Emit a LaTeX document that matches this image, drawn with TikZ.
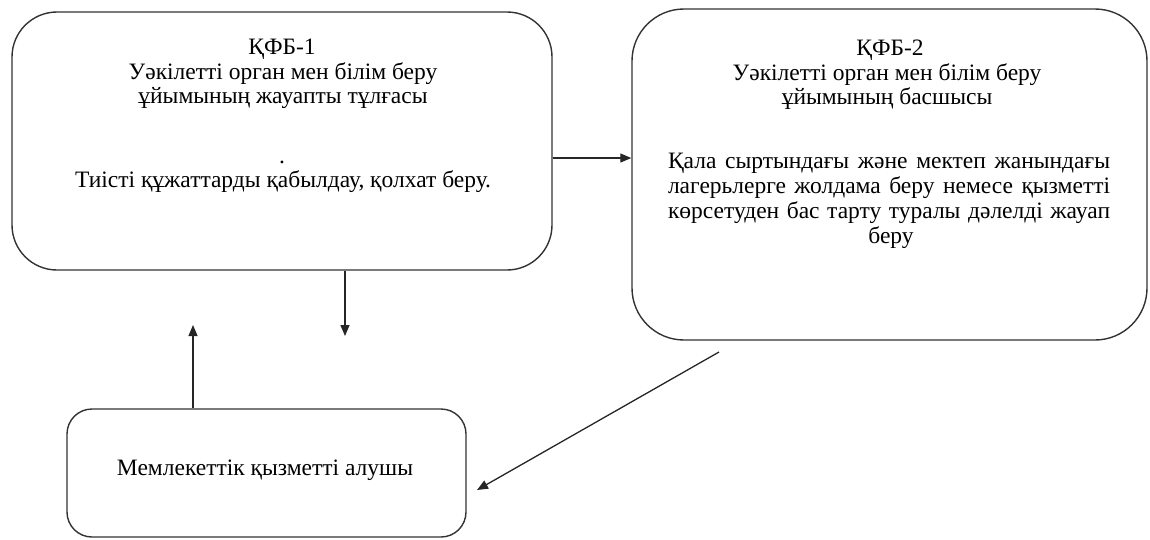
\documentclass[tikz,border=0pt]{standalone}
\usepackage{fontspec}
\setmainfont{Liberation Serif}
\usetikzlibrary{arrows.meta}
\tikzset{
  box/.style={draw=black!80, line width=1.4pt, fill=none, inner sep=0pt},
  txt/.style={anchor=base, inner sep=0pt, font=\fontsize{23.5}{26}\selectfont},
  arr/.style={draw=black!85, line width=1.3pt, -{Triangle[length=11pt,width=9pt]}}
}
\newcommand{\jline}[1]{\makebox[442pt][s]{#1}}
\begin{document}
\begin{tikzpicture}[x=1pt,y=-1pt]
\useasboundingbox (0,0) rectangle (1150,539);
% boxes
\node[box, rounded corners=45pt, minimum width=540pt, minimum height=258pt] (b1) at (282,141) {};
\node[box, rounded corners=52pt, minimum width=515pt, minimum height=331pt] (b2) at (889.5,174.5) {};
\node[box, rounded corners=25pt, minimum width=399pt, minimum height=128pt] (b3) at (266.5,473) {};
% box 1 text
\node[txt] (t1a) at (282,54) {ҚФБ-1};
\node[txt] (t1b) at (283,79) {Уәкілетті орган мен білім беру};
\node[txt] (t1c) at (283,103) {ұйымының жауапты тұлғасы};
\node[txt] (t1d) at (282,163) {.};
\node[txt] (t1e) at (283,187) {Тиісті құжаттарды қабылдау, қолхат беру.};
% box 2 text
\node[txt] (t2a) at (890,55) {ҚФБ-2};
\node[txt] (t2b) at (887,80) {Уәкілетті орган мен білім беру};
\node[txt] (t2c) at (887,104) {ұйымының басшысы};
\node[txt] (t2d) at (889,168) {\jline{Қала сыртындағы және мектеп жанындағы}};
\node[txt] (t2e) at (889,193) {\jline{лагерьлерге жолдама беру немесе қызметті}};
\node[txt] (t2f) at (889,218) {\jline{көрсетуден бас тарту туралы дәлелді жауап}};
\node[txt] (t2g) at (891,243) {беру};
% box 3 text
\node[txt] (t3a) at (265,475) {Мемлекеттік қызметті алушы};
% connector end points
\coordinate (a1) at (0,158);
\coordinate (d1) at (345,336);
\coordinate (u1) at (193,325);
\coordinate (s1) at (719,352);
\coordinate (e1) at (477,490);
% connectors
\draw[arr] (b1.east |- a1) -- (b2.west |- a1);
\draw[arr] (b1.south -| d1) -- (d1);
\draw[arr] (b3.north -| u1) -- (u1);
\draw[arr] (s1) -- (e1);
\end{tikzpicture}
\end{document}
